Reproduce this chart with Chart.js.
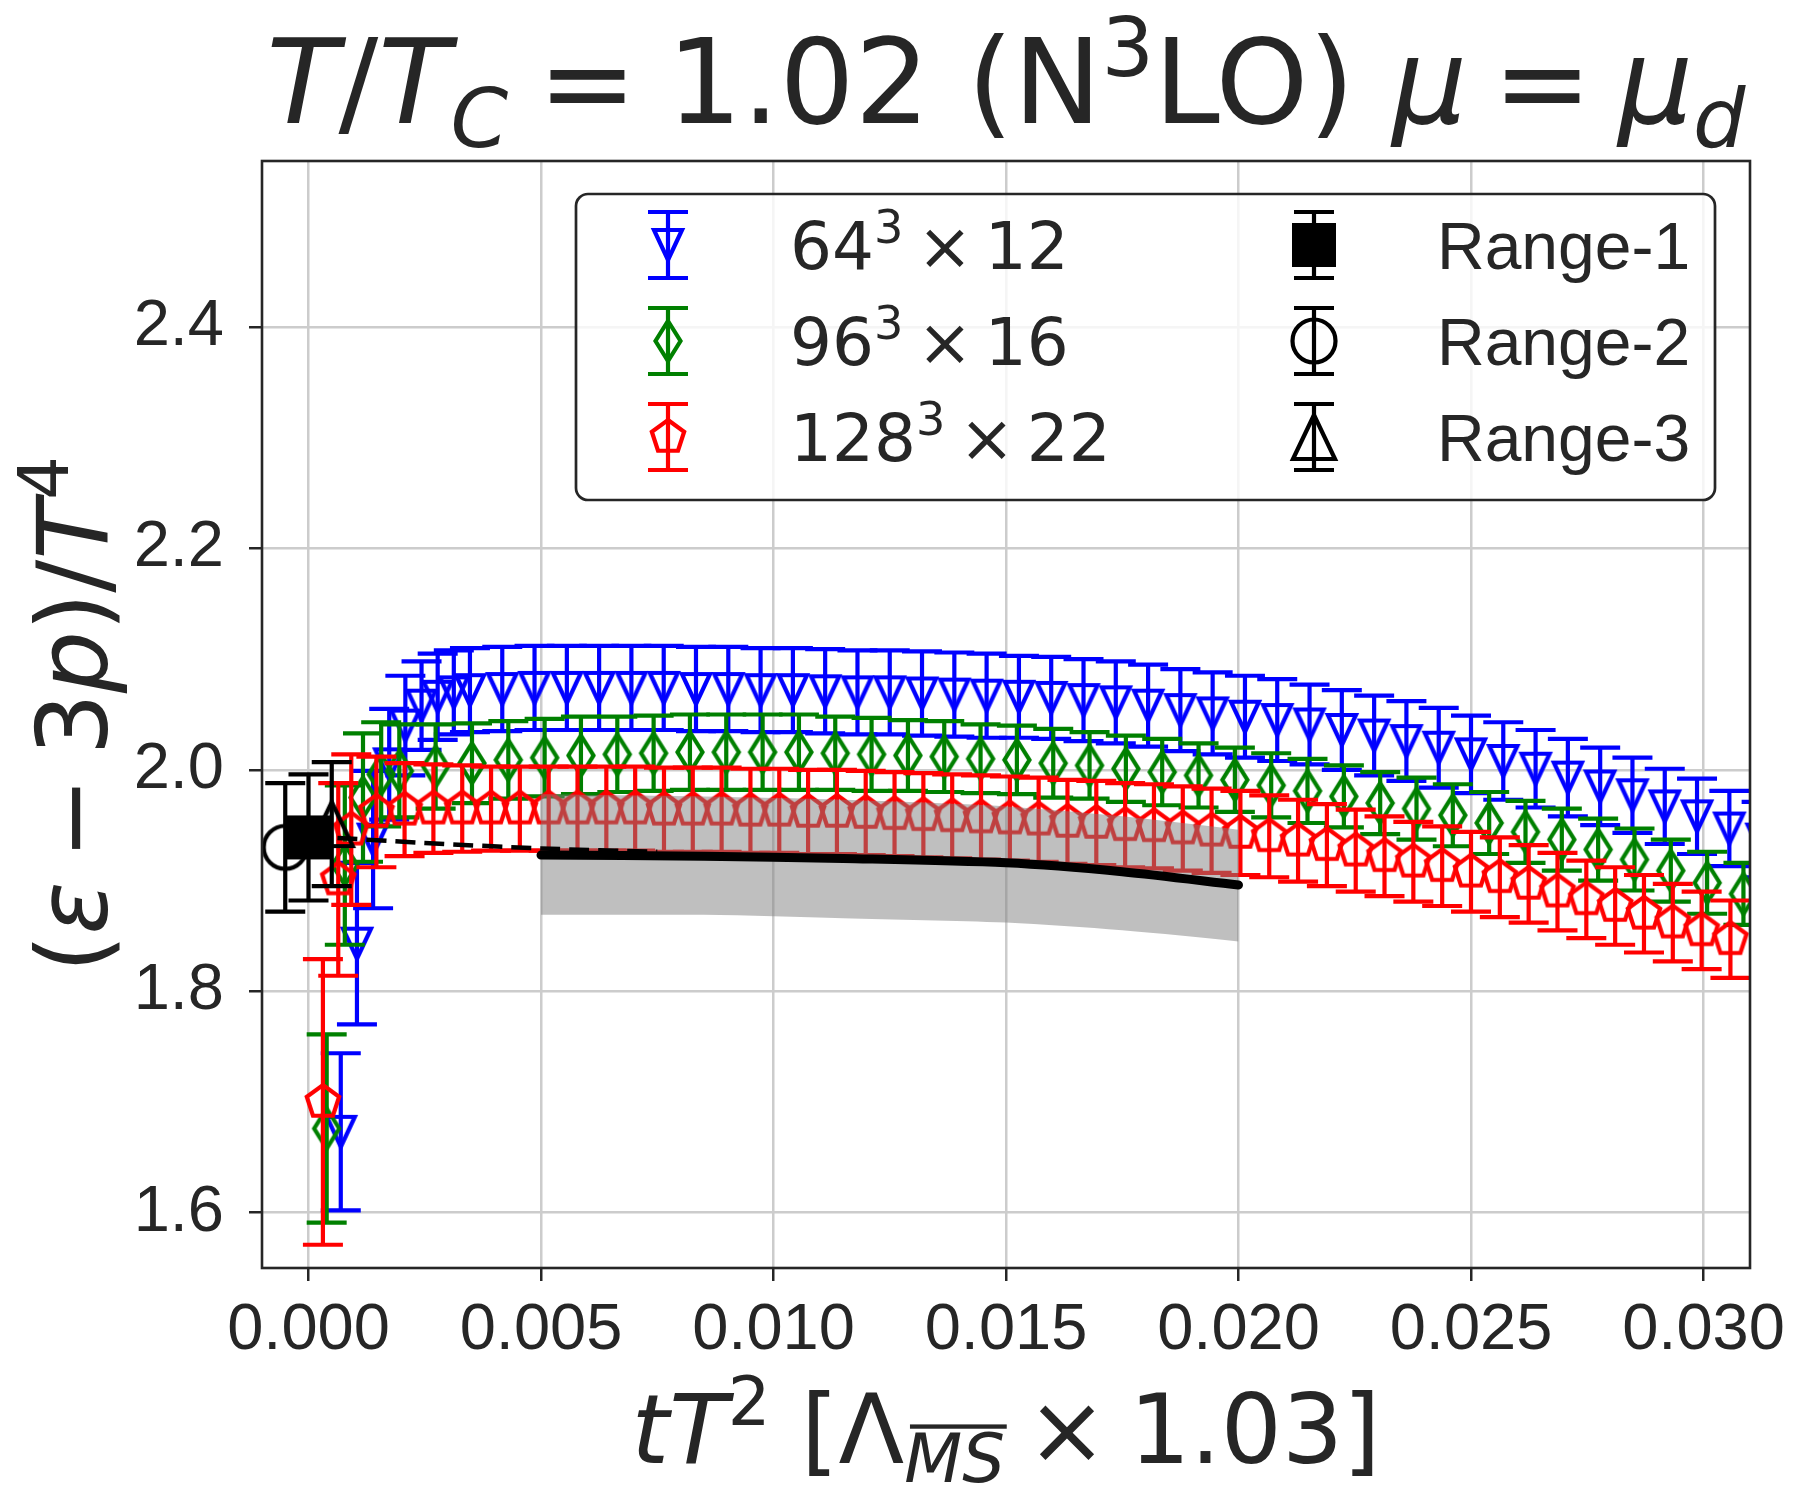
<!DOCTYPE html>
<html>
<head>
<meta charset="utf-8">
<title>(ε − 3p)/T⁴ vs tT²</title>
<script src="https://cdn.jsdelivr.net/npm/chart.js@4.4.1/dist/chart.umd.min.js"></script>
<style>
  html, body { margin: 0; padding: 0; background: #fff; }
  #wrap { width: 1803px; height: 1502px; }
</style>
</head>
<body>
<div id="wrap"><canvas id="c" width="1803" height="1502"></canvas></div>
<script>
// ---- data ----
const xTicks = [0.000, 0.005, 0.010, 0.015, 0.020, 0.025, 0.030];
const yTicks = [1.6, 1.8, 2.0, 2.2, 2.4];
const seriesNames = ["64³ × 12", "96³ × 16", "128³ × 22"];
const rangeNames = ["Range-1", "Range-2", "Range-3"];

// 64^3 x 12
const blueX = [0.000694, 0.001042, 0.001389, 0.001736, 0.002083, 0.002431, 0.002778, 0.003125, 0.003472,
  0.004167, 0.004861, 0.005556, 0.00625, 0.006944, 0.007639, 0.008333, 0.009028, 0.009722, 0.010417,
  0.011111, 0.011806, 0.0125, 0.013194, 0.013889, 0.014583, 0.015278, 0.015972, 0.016667, 0.017361,
  0.018056, 0.01875, 0.019444, 0.020139, 0.020833, 0.021528, 0.022222, 0.022917, 0.023611, 0.024306,
  0.025, 0.025694, 0.026389, 0.027083, 0.027778, 0.028472, 0.029167, 0.029861, 0.030556, 0.03125];
const blueY = [1.673, 1.843, 1.937, 2.005, 2.040, 2.058, 2.066, 2.070, 2.072,
  2.073, 2.074, 2.074, 2.074, 2.074, 2.074, 2.073, 2.073, 2.072, 2.072,
  2.071, 2.070, 2.070, 2.069, 2.068, 2.067, 2.066, 2.065, 2.063, 2.061,
  2.058, 2.054, 2.051, 2.048, 2.045, 2.041, 2.036, 2.031, 2.026, 2.020,
  2.014, 2.008, 2.001, 1.993, 1.985, 1.977, 1.967, 1.958, 1.947, 1.937];
const blueErr = [0.071, 0.073, 0.062, 0.050, 0.045, 0.040, 0.039, 0.038, 0.038,
  0.038, 0.038, 0.038, 0.038, 0.038, 0.038, 0.038, 0.038, 0.038, 0.038,
  0.038, 0.038, 0.038, 0.038, 0.038, 0.038, 0.037, 0.037, 0.037, 0.037,
  0.037, 0.037, 0.037, 0.037, 0.037, 0.036, 0.036, 0.036, 0.036, 0.036,
  0.035, 0.035, 0.035, 0.035, 0.035, 0.034, 0.034, 0.034, 0.034, 0.034];

// 96^3 x 16
const greenX = [0.000391, 0.000781, 0.001172, 0.001563, 0.001953, 0.002734, 0.003516, 0.004297, 0.005078,
  0.005859, 0.006641, 0.007422, 0.008203, 0.008984, 0.009766, 0.010547, 0.011328, 0.012109, 0.012891,
  0.013672, 0.014453, 0.015234, 0.016016, 0.016797, 0.017578, 0.018359, 0.019141, 0.019922, 0.020703,
  0.021484, 0.022266, 0.023047, 0.023828, 0.024609, 0.025391, 0.026172, 0.026953, 0.027734, 0.028516,
  0.029297, 0.030078, 0.030859];
const greenY = [1.676, 1.914, 1.975, 1.996, 1.999, 2.003, 2.006, 2.009, 2.011,
  2.013, 2.014, 2.015, 2.016, 2.016, 2.016, 2.016, 2.015, 2.014, 2.013,
  2.012, 2.010, 2.009, 2.006, 2.004, 2.001, 1.998, 1.995, 1.991, 1.986,
  1.981, 1.976, 1.970, 1.965, 1.959, 1.952, 1.944, 1.937, 1.928, 1.919,
  1.909, 1.898, 1.888];
const greenErr = [0.085, 0.072, 0.058, 0.047, 0.042, 0.038, 0.036, 0.035, 0.035,
  0.035, 0.034, 0.034, 0.034, 0.034, 0.034, 0.034, 0.033, 0.033, 0.032,
  0.032, 0.031, 0.031, 0.031, 0.030, 0.030, 0.030, 0.029, 0.029, 0.029,
  0.029, 0.028, 0.028, 0.028, 0.028, 0.028, 0.028, 0.028, 0.028, 0.028,
  0.028, 0.028, 0.028];

// 128^3 x 22
const redX = [0.00031, 0.00064, 0.00092, 0.00146, 0.002066, 0.002686, 0.003306, 0.003926, 0.004545,
  0.005165, 0.005785, 0.006405, 0.007025, 0.007645, 0.008264, 0.008884, 0.009504, 0.010124, 0.010744,
  0.011364, 0.011983, 0.012603, 0.013223, 0.013843, 0.014463, 0.015083, 0.015702, 0.016322, 0.016942,
  0.017562, 0.018182, 0.018802, 0.019421, 0.020041, 0.020661, 0.021281, 0.021901, 0.022521, 0.02314,
  0.02376, 0.02438, 0.025, 0.02562, 0.02624, 0.02686, 0.02748, 0.0281, 0.02872, 0.02934,
  0.02996, 0.030579];
const redY = [1.700, 1.901, 1.946, 1.962, 1.964, 1.965, 1.965, 1.965, 1.965,
  1.965, 1.965, 1.965, 1.965, 1.964, 1.964, 1.964, 1.963, 1.963, 1.962,
  1.962, 1.961, 1.960, 1.959, 1.958, 1.957, 1.956, 1.955, 1.953, 1.952,
  1.950, 1.949, 1.947, 1.945, 1.943, 1.940, 1.936, 1.932, 1.927, 1.922,
  1.917, 1.913, 1.908, 1.903, 1.897, 1.890, 1.883, 1.877, 1.870, 1.862,
  1.855, 1.847];
const redErr = [0.129, 0.087, 0.068, 0.050, 0.042, 0.040, 0.039, 0.038, 0.038,
  0.038, 0.038, 0.038, 0.038, 0.038, 0.038, 0.038, 0.038, 0.038, 0.038,
  0.038, 0.038, 0.038, 0.038, 0.038, 0.038, 0.038, 0.038, 0.038, 0.038,
  0.038, 0.038, 0.038, 0.038, 0.038, 0.037, 0.037, 0.037, 0.037, 0.036,
  0.036, 0.036, 0.036, 0.036, 0.035, 0.035, 0.035, 0.035, 0.035, 0.035,
  0.035, 0.035];

// continuum extrapolations (Range-1 / -2 / -3)
const rangeX = [0.0, -0.0005, 0.0005];
const rangeY = [1.939, 1.930, 1.951];
const rangeErr = [0.057, 0.058, 0.056];

// fit line + band, dashed extension to tT^2 = 0
const fitX = [0.005, 0.0085, 0.0115, 0.015, 0.0175, 0.020];
const fitY = [1.923, 1.922, 1.920, 1.916, 1.908, 1.896];
const bandHi = [1.978, 1.976, 1.973, 1.967, 1.958, 1.946];
const bandLo = [1.869, 1.869, 1.866, 1.862, 1.855, 1.845];
const dashX = [0.0, 0.0025, 0.005, 0.0075];
const dashY = [1.940, 1.934, 1.929, 1.926];

const pts = (xs, ys) => xs.map((x, i) => ({ x, y: ys[i] }));

// ---- marker glyphs ----
const LW = 4.2;
function glyph(size, draw) {
  const c = document.createElement("canvas");
  c.width = size; c.height = size;
  const g = c.getContext("2d");
  g.lineWidth = LW;
  g.lineJoin = "miter";
  draw(g, size / 2, size / 2);
  return c;
}
const triDown = glyph(52, (g, cx, cy) => {
  g.strokeStyle = "#0000ff";
  g.beginPath(); g.moveTo(cx - 14, cy - 15); g.lineTo(cx + 14, cy - 15); g.lineTo(cx, cy + 15); g.closePath(); g.stroke();
});
const thinDiamond = glyph(60, (g, cx, cy) => {
  g.strokeStyle = "#008000";
  g.beginPath(); g.moveTo(cx, cy - 20); g.lineTo(cx + 12.5, cy); g.lineTo(cx, cy + 20); g.lineTo(cx - 12.5, cy); g.closePath(); g.stroke();
});
const pentagon = glyph(48, (g, cx, cy) => {
  g.strokeStyle = "#ff0000";
  g.beginPath();
  for (let i = 0; i < 5; i++) {
    const a = -Math.PI / 2 + i * 2 * Math.PI / 5;
    const px = cx + 17 * Math.cos(a), py = cy + 17 * Math.sin(a);
    i ? g.lineTo(px, py) : g.moveTo(px, py);
  }
  g.closePath(); g.stroke();
});
const square = glyph(50, (g, cx, cy) => {
  g.fillStyle = "#000"; g.fillRect(cx - 22, cy - 22, 44, 44);
});
const circle = glyph(54, (g, cx, cy) => {
  g.strokeStyle = "#000";
  g.beginPath(); g.arc(cx, cy, 21.5, 0, 2 * Math.PI); g.stroke();
});
const triUp = glyph(64, (g, cx, cy) => {
  g.strokeStyle = "#000";
  g.beginPath(); g.moveTo(cx, cy - 22); g.lineTo(cx + 21, cy + 22); g.lineTo(cx - 21, cy + 22); g.closePath(); g.stroke();
});

// ---- plugins ----
const CAP = 20;
function drawBar(ctx, x, top, bot) {
  ctx.beginPath();
  ctx.moveTo(x, top); ctx.lineTo(x, bot);
  ctx.moveTo(x - CAP, top); ctx.lineTo(x + CAP, top);
  ctx.moveTo(x - CAP, bot); ctx.lineTo(x + CAP, bot);
  ctx.stroke();
}

const errorBars = {
  id: "errorBars",
  beforeDatasetDraw(chart, args) {
    const ds = chart.data.datasets[args.index];
    if (!ds.yErr) return;
    const { ctx, chartArea: a } = chart;
    const ys = chart.scales.y;
    ctx.save();
    ctx.beginPath(); ctx.rect(a.left, a.top, a.right - a.left, a.bottom - a.top); ctx.clip();
    ctx.strokeStyle = ds.errColor; ctx.lineWidth = LW; ctx.lineCap = "butt";
    args.meta.data.forEach((p, i) => {
      const v = ds.data[i].y, e = ds.yErr[i];
      drawBar(ctx, p.x, ys.getPixelForValue(v + e), ys.getPixelForValue(v - e));
    });
    ctx.restore();
  },
};

const frame = {
  id: "frame",
  afterDatasetsDraw(chart) {
    const { ctx, chartArea: a } = chart;
    ctx.save();
    ctx.strokeStyle = "#262626"; ctx.lineWidth = 2.6;
    ctx.strokeRect(a.left, a.top, a.right - a.left, a.bottom - a.top);
    ctx.restore();
  },
};

// rich text: segments with italic / sub / sup / overline / fixed gaps
function segFont(s, size, family) {
  const sz = (s.sub || s.sup) ? size * 0.7 : size;
  return (s.it ? "italic " : "") + sz + 'px "' + family + '"';
}
function segWidth(ctx, s, size, family) {
  if (s.gap) return s.gap;
  ctx.font = segFont(s, size, family);
  return ctx.measureText(s.t).width;
}
function drawRich(ctx, segs, x0, baseY, size, family, center) {
  let w = 0;
  segs.forEach(s => { w += segWidth(ctx, s, size, family); });
  let x = center ? x0 - w / 2 : x0;
  ctx.textAlign = "left"; ctx.textBaseline = "alphabetic";
  segs.forEach(s => {
    const sw = segWidth(ctx, s, size, family);
    if (!s.gap) {
      ctx.font = segFont(s, size, family);
      const dy = s.sub ? size * 0.2 : s.sup ? -size * 0.4 : 0;
      ctx.fillText(s.t, x, baseY + dy);
      if (s.bar) {
        const by = baseY + dy - size * 0.7 * 0.86;
        ctx.fillRect(x + size * 0.06, by, sw - size * 0.04, size * 0.045);
      }
    }
    x += sw;
  });
}

const titleSegs = [{ t: "T", it: 1 }, { t: "/" }, { t: "T", it: 1 }, { t: "C", it: 1, sub: 1 },
  { gap: 30 }, { t: "=" }, { gap: 30 }, { t: "1.02 (N" }, { t: "3", sup: 1 }, { t: "LO) " },
  { t: "μ", it: 1 }, { gap: 26 }, { t: "=" }, { gap: 26 }, { t: "μ", it: 1 }, { t: "d", it: 1, sub: 1 }];
const xLabelSegs = [{ t: "t", it: 1 }, { t: "T", it: 1 }, { t: "2", sup: 1 }, { t: " [Λ" },
  { t: "MS", it: 1, sub: 1, bar: 1 }, { gap: 22 }, { t: "×" }, { gap: 22 }, { t: "1.03]" }];
const yLabelSegs = [{ t: "(" }, { t: "ε", it: 1 }, { gap: 22 }, { t: "−" }, { gap: 22 }, { t: "3" },
  { t: "p", it: 1 }, { t: ")/" }, { t: "T", it: 1 }, { t: "4", sup: 1 }];

const labels = {
  id: "labels",
  afterDraw(chart) {
    const { ctx, chartArea: a } = chart;
    const cx = (a.left + a.right) / 2, cy = (a.top + a.bottom) / 2;
    ctx.save();
    ctx.fillStyle = "#262626";
    drawRich(ctx, titleSegs, cx, 123, 118, "DejaVu Sans", true);
    drawRich(ctx, xLabelSegs, cx, 1463, 96, "DejaVu Sans", true);
    ctx.translate(107, cy); ctx.rotate(-Math.PI / 2);
    drawRich(ctx, yLabelSegs, 0, 0, 98, "DejaVu Sans", true);
    ctx.restore();
  },
};

// legend label "64³ × 12" -> base, superscript, spaced times sign, rest
function labelSegs(label) {
  const k = label.indexOf("³");
  if (k < 0) return { segs: [{ t: label }], family: "Liberation Sans" };
  const rest = label.slice(k + 1).replace("×", "").trim();
  return {
    segs: [{ t: label.slice(0, k) }, { t: "3", sup: 1 }, { gap: 14 }, { t: "×" }, { gap: 12 }, { t: rest }],
    family: "DejaVu Sans",
  };
}

const legendBox = {
  id: "legendBox",
  afterDraw(chart) {
    const ctx = chart.ctx;
    const bx = 576, by = 194, bw = 1139, bh = 306;
    ctx.save();
    ctx.beginPath(); ctx.roundRect(bx, by, bw, bh, 12);
    ctx.fillStyle = "rgba(255,255,255,0.8)"; ctx.fill();
    ctx.strokeStyle = "#262626"; ctx.lineWidth = 2.7; ctx.stroke();
    const rows = [245, 341, 437];
    const cols = [{ mx: 668, tx: 790 }, { mx: 1314, tx: 1437 }];
    const items = chart.data.datasets.filter(d => d.legendCol !== undefined);
    items.forEach(d => {
      const c = cols[d.legendCol], y = rows[d.legendRow];
      ctx.strokeStyle = d.errColor; ctx.lineWidth = LW;
      drawBar(ctx, c.mx, y - 33, y + 33);
      const g = d.pointStyle;
      ctx.drawImage(g, c.mx - g.width / 2, y - g.height / 2);
      ctx.fillStyle = "#262626";
      const lab = labelSegs(d.label);
      drawRich(ctx, lab.segs, c.tx, y + 24, 66, lab.family, false);
    });
    ctx.restore();
  },
};

// ---- chart ----
const markerSet = (label, xs, ys, errs, style, color, order, col, row) => ({
  label, data: pts(xs, ys), yErr: errs, errColor: color, pointStyle: style,
  pointRadius: 18, showLine: false, order, clip: 0, legendCol: col, legendRow: row,
});

new Chart(document.getElementById("c"), {
  type: "scatter",
  data: {
    datasets: [
      markerSet(rangeNames[0], [rangeX[0]], [rangeY[0]], [rangeErr[0]], square, "#000", 0, 1, 0),
      markerSet(rangeNames[1], [rangeX[1]], [rangeY[1]], [rangeErr[1]], circle, "#000", 0, 1, 1),
      markerSet(rangeNames[2], [rangeX[2]], [rangeY[2]], [rangeErr[2]], triUp, "#000", 0, 1, 2),
      { label: "fit", data: pts(fitX, fitY), showLine: true, borderColor: "#000", borderWidth: 9,
        borderCapStyle: "round", pointRadius: 0, tension: 0.3, order: 1, clip: 0 },
      { label: "extrapolation", data: pts(dashX, dashY), showLine: true, borderColor: "#000", borderWidth: 4.5,
        borderDash: [20, 9], pointRadius: 0, tension: 0.3, order: 2, clip: 0 },
      { label: "band-hi", data: pts(fitX, bandHi), showLine: true, borderWidth: 0, pointRadius: 0,
        tension: 0.3, fill: "+1", backgroundColor: "rgba(128,128,128,0.5)", order: 3, clip: 0 },
      { label: "band-lo", data: pts(fitX, bandLo), showLine: true, borderWidth: 0, pointRadius: 0,
        tension: 0.3, order: 3, clip: 0 },
      markerSet(seriesNames[2], redX, redY, redErr, pentagon, "#ff0000", 4, 0, 2),
      markerSet(seriesNames[1], greenX, greenY, greenErr, thinDiamond, "#008000", 5, 0, 1),
      markerSet(seriesNames[0], blueX, blueY, blueErr, triDown, "#0000ff", 6, 0, 0),
    ],
  },
  options: {
    responsive: false,
    animation: false,
    events: [],
    layout: { padding: { left: 0, right: 53, top: 161, bottom: 0 } },
    plugins: { legend: { display: false }, tooltip: { enabled: false } },
    scales: {
      x: {
        type: "linear", min: -0.001, max: 0.031,
        afterBuildTicks: s => { s.ticks = xTicks.map(v => ({ value: v })); },
        afterFit: s => { s.height = 234; },
        border: { display: false },
        grid: { color: "#cccccc", lineWidth: 2.5, tickColor: "#262626", tickWidth: 2.5, tickLength: 13 },
        ticks: { color: "#262626", font: { family: "Liberation Sans", size: 65 }, padding: 11,
          maxRotation: 0, autoSkip: false, callback: v => v.toFixed(3) },
      },
      y: {
        type: "linear", min: 1.55, max: 2.55,
        afterBuildTicks: s => { s.ticks = yTicks.map(v => ({ value: v })); },
        afterFit: s => { s.width = 262; },
        border: { display: false },
        grid: { color: "#cccccc", lineWidth: 2.5, tickColor: "#262626", tickWidth: 2.5, tickLength: 13 },
        ticks: { color: "#262626", font: { family: "Liberation Sans", size: 65 }, padding: 25,
          autoSkip: false, callback: v => v.toFixed(1) },
      },
    },
  },
  plugins: [errorBars, frame, labels, legendBox],
});
</script>
</body>
</html>
